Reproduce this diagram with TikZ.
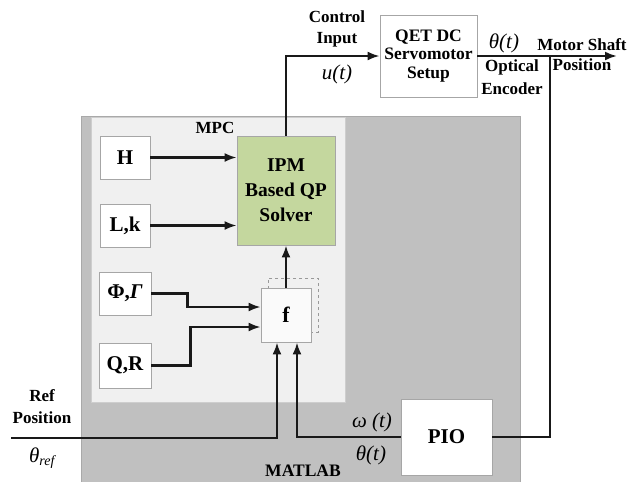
\documentclass[tikz,border=0pt]{standalone}
\usepackage{fontspec}
\setmainfont{Liberation Serif}
\usetikzlibrary{arrows.meta, positioning, calc}
\definecolor{MatGray}{HTML}{C0C0C0}
\definecolor{MatEdge}{HTML}{A9A9A9}
\definecolor{MpcGray}{HTML}{F0F0F0}
\definecolor{BoxEdge}{HTML}{A6A6A6}
\definecolor{SolverGreen}{HTML}{C4D79E}
\newcommand{\lblfont}{\bfseries\fontsize{17}{21}\selectfont}
\newcommand{\sigfont}{\itshape\fontsize{21}{22}\selectfont}
\tikzset{
  panel/.style={draw=MatEdge, thick, inner sep=0pt},
  pbox/.style={draw=BoxEdge, fill=white, thick, align=center, inner sep=0pt,
    font=\bfseries\fontsize{21}{24}\selectfont},
  qbox/.style={draw=BoxEdge, fill=white, thick, align=center, inner sep=0pt,
    font=\bfseries\fontsize{17.5}{18.5}\selectfont},
  lbl/.style={align=center, inner sep=0pt, font=\lblfont},
  sig/.style={inner sep=0pt, font=\sigfont},
  flow/.style={-{Latex[length=12pt, width=9pt]}, line width=2.2pt, draw=black!90},
  wire/.style={line width=2.2pt, draw=black!90},
}
\begin{document}
\begin{tikzpicture}[x=1pt, y=-1pt]
  \useasboundingbox (0,0) rectangle (633,482);
  % panels
  \node[panel, fill=MatGray, minimum width=439, minimum height=368] (matlab) at (300.5,300) {};
  \node[panel, draw=MpcGray!70!gray, fill=MpcGray, minimum width=254, minimum height=285] (mpc) at (218,259.5) {};
  \node[lbl, font=\bfseries\fontsize{17}{20}\selectfont] (mpclbl) at (215,128) {MPC};
  \node[lbl, font=\bfseries\fontsize{17.5}{20}\selectfont] (matlablbl) at (303,471) {MATLAB};
  % matrices
  \node[pbox, minimum width=50, minimum height=43] (H) at (125,157.5) {H};
  \node[pbox, minimum width=50, minimum height=43] (Lk) at (125,225.5) {L,k};
  \node[pbox, minimum width=52, minimum height=43] (PhiG) at (125,293.5) {Φ,\textit{Γ}};
  \node[pbox, minimum width=52, minimum height=45] (QR) at (125,365.5) {Q,R};
  % solver and f
  \node[pbox, fill=SolverGreen, minimum width=98, minimum height=109,
    font=\bfseries\fontsize{19.5}{25}\selectfont] (ipm) at (286,190.5) {IPM\\Based QP\\Solver};
  \node[pbox, dashed, fill=none, draw=gray!80, minimum width=50, minimum height=54] (fshadow) at (293,305) {};
  \node[pbox, fill=white!96!gray, minimum width=50, minimum height=54, font=\bfseries\fontsize{22}{22}\selectfont] (f) at (286,315) {f};
  % plant and observer
  \node[qbox, minimum width=97, minimum height=82] (qet) at (428.5,56) {QET DC\\Servomotor\\Setup};
  \node[pbox, minimum width=91, minimum height=76] (pio) at (446.5,437) {PIO};
  \coordinate (tap) at (550,56);
  \coordinate (shaft) at (617,56);
  \coordinate (refin) at (11,438);
  % texts
  \node[lbl] (ctrl) at (337,29) {Control\\Input};
  \node[sig] (ut) at (337,74) {u(t)};
  \node[sig] (thtop) at (504,43) {θ(t)};
  \node[lbl, font=\bfseries\fontsize{17}{23}\selectfont] (enc) at (512,77) {Optical\\Encoder};
  \node[lbl, font=\bfseries\fontsize{17}{20}\selectfont] (shaftlbl) at (582,55) {Motor Shaft\\Position};
  \node[lbl, font=\bfseries\fontsize{17}{22}\selectfont] (reflbl) at (42,407) {Ref\\Position};
  \node[sig] (thref) at (42,458) {θ\textsubscript{\fontsize{14}{14}\selectfont ref}};
  \node[sig] (omega) at (372,422) {ω (t)};
  \node[sig] (thpio) at (371,455) {θ(t)};
  % connectors
  \draw[flow] (H.east) -- (H.east -| ipm.west);
  \draw[flow] (Lk.east) -- (Lk.east -| ipm.west);
  \draw[flow] (PhiG.east) -- ++(36,0) |- ([yshift=8pt]f.west);
  \draw[flow] (QR.east) -- ++(39,0) |- ([yshift=-12pt]f.west);
  \draw[flow] (f.north) -- (ipm.south);
  \draw[flow] (ipm.north) |- (qet.west);
  \draw[flow] (qet.east) -- (shaft);
  \draw[wire] (tap) |- (pio.east);
  \draw[flow] (pio.west) -| ([xshift=11pt]f.south);
  \draw[flow] (refin) -| ([xshift=-9pt]f.south);
\end{tikzpicture}
\end{document}
